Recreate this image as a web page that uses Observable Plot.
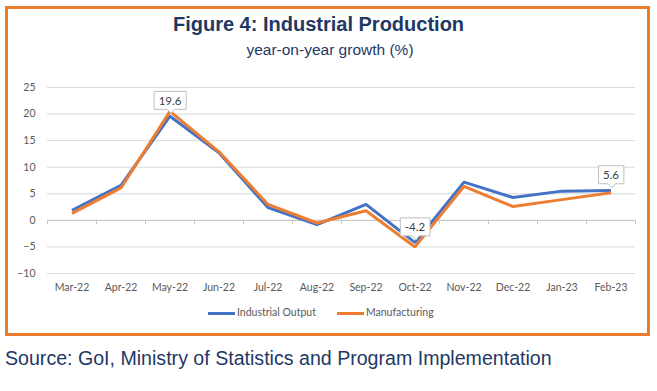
<!DOCTYPE html>
<html>
<head>
<meta charset="utf-8">
<script src="https://cdn.jsdelivr.net/npm/d3@7"></script>
<script src="https://cdn.jsdelivr.net/npm/@observablehq/plot@0.6"></script>
<style>
  html, body { margin: 0; padding: 0; background: #fff; }
  body { width: 657px; height: 391px; position: relative; overflow: hidden; }
  #frame { position: absolute; left: 5px; top: 6px; width: 645px; height: 330px; box-sizing: border-box; border: 3px solid #EB7B2D; }
  #title { position: absolute; left: 0; width: 637px; top: 12px; text-align: center; font-family: "Liberation Sans", Arial, sans-serif; font-weight: bold; font-size: 20px; line-height: 24px; color: #1F3864; }
  #subtitle { position: absolute; left: 0; width: 660px; top: 41px; text-align: center; font-family: "Liberation Sans", Arial, sans-serif; font-size: 15.5px; line-height: 18px; color: #1F3864; }
  #chart { position: absolute; left: 0; top: 70px; }
  #legend { position: absolute; left: 208px; top: 305px; font-family: Lato, sans-serif; font-size: 10.5px; color: #595959; line-height: 14px; white-space: nowrap; }
  #legend .sw { display: inline-block; width: 27px; height: 3px; vertical-align: middle; margin-right: 2px; }
  #legend .item { display: inline-block; }
  #source { position: absolute; left: 5px; top: 346px; font-family: "Liberation Sans", Arial, sans-serif; font-size: 19.6px; line-height: 24px; color: #1F3864; white-space: nowrap; }
</style>
</head>
<body>
<div id="frame"></div>
<div id="title">Figure 4: Industrial Production</div>
<div id="subtitle">year-on-year growth (%)</div>
<div id="chart"></div>
<div id="legend"></div>
<div id="source">Source: GoI, Ministry of Statistics and Program Implementation</div>
<script>
const months = ["Mar-22","Apr-22","May-22","Jun-22","Jul-22","Aug-22","Sep-22","Oct-22","Nov-22","Dec-22","Jan-23","Feb-23"];
const industrialOutput = [1.9, 6.6, 19.6, 12.7, 2.4, -0.8, 3.0, -4.2, 7.2, 4.3, 5.5, 5.6];
const manufacturing = [1.3, 6.1, 20.5, 12.9, 3.0, -0.5, 1.8, -5.0, 6.4, 2.6, 3.9, 5.2];
const yTicks = [-10, -5, 0, 5, 10, 15, 20, 25];
const calloutMonths = ["May-22", "Oct-22", "Feb-23"];
const seriesNames = ["Industrial Output", "Manufacturing"];
const seriesColors = ["#4472C4", "#ED7D31"];

const idx = months.map((m, i) => i);
const boundaries = months.map((m, i) => i - 0.5).concat([months.length - 0.5]);
const calloutIdx = calloutMonths.map(m => months.indexOf(m));

const svg = Plot.plot({
  width: 657,
  height: 235,
  marginLeft: 47,
  marginRight: 22,
  marginTop: 17,
  marginBottom: 32,
  style: { fontFamily: "Lato, sans-serif", fontSize: "10.5px", color: "#595959", background: "transparent", overflow: "visible" },
  x: { domain: [-0.5, months.length - 0.5], ticks: idx, tickFormat: i => months[i], tickSize: 0, tickPadding: 10, label: null },
  y: { domain: [-10, 25], ticks: yTicks, tickSize: 0, tickPadding: 12, label: null },
  marks: [
    Plot.ruleY(yTicks, { stroke: "#d9d9d9", strokeWidth: 1 }),
    Plot.ruleY([0], { stroke: "#c8c8c8", strokeWidth: 1 }),
    Plot.ruleX(boundaries, { y1: 0, y2: -0.8, stroke: "#c8c8c8", strokeWidth: 1 }),
    Plot.line(industrialOutput, { x: (d, i) => i, y: d => d, stroke: seriesColors[0], strokeWidth: 3, strokeLinejoin: "miter", strokeLinecap: "butt" }),
    Plot.line(manufacturing, { x: (d, i) => i, y: d => d, stroke: seriesColors[1], strokeWidth: 3, strokeLinejoin: "miter", strokeLinecap: "butt" }),
    Plot.text(calloutIdx, { x: i => i, y: i => industrialOutput[i], text: i => industrialOutput[i].toFixed(1), dy: -15, fill: "#404040", fontSize: 11.5 })
  ]
});
document.getElementById("chart").appendChild(svg);

// draw callout boxes behind the label texts
const ns = "http://www.w3.org/2000/svg";
svg.querySelectorAll('g[aria-label="text"] text').forEach(t => {
  const bb = t.getBBox();
  const tr = t.getAttribute("transform");
  const x0 = bb.x - 4.5, y0 = bb.y - 2.5, w = bb.width + 9, h = bb.height + 5;
  const cx = bb.x + bb.width / 2;
  const b = y0 + h;
  const p = document.createElementNS(ns, "path");
  p.setAttribute("d", `M${x0},${y0}H${x0 + w}V${b}H${cx + 4}L${cx + 1},${b + 4}L${cx - 3},${b}H${x0}Z`);
  p.setAttribute("fill", "#fff");
  p.setAttribute("stroke", "#bfbfbf");
  p.setAttribute("stroke-width", "1");
  if (tr) p.setAttribute("transform", tr);
  t.parentNode.insertBefore(p, t);
});

// legend
const leg = document.getElementById("legend");
seriesNames.forEach((name, k) => {
  const item = document.createElement("span");
  item.className = "item";
  if (k > 0) item.style.marginLeft = "21px";
  const sw = document.createElement("span");
  sw.className = "sw";
  sw.style.background = seriesColors[k];
  item.appendChild(sw);
  item.appendChild(document.createTextNode(name));
  leg.appendChild(item);
});
</script>
</body>
</html>
